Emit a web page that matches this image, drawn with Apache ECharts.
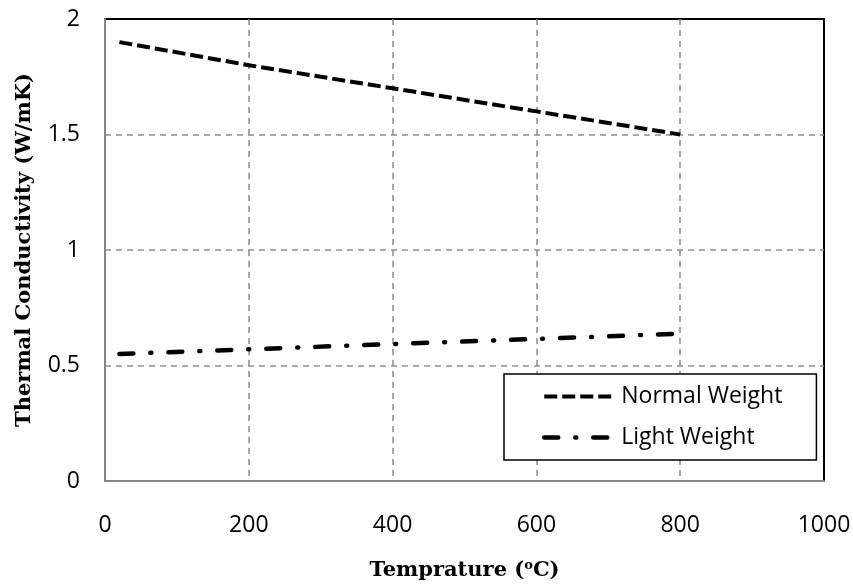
<!DOCTYPE html>
<html>
<head>
<meta charset="utf-8">
<script src="https://cdn.jsdelivr.net/npm/echarts@6/dist/echarts.min.js"></script>
<style>
  html, body { margin: 0; padding: 0; background: #fff; }
  #chart { width: 853px; height: 586px; }
</style>
</head>
<body>
<div id="chart"></div>
<script>
// Thermal conductivity of concrete vs temperature
const temps = [20, 200, 400, 600, 800];
const normalWeight = [1.9, 1.8, 1.7, 1.6, 1.5];
const lightWeight = [0.55, 0.57, 0.593, 0.615, 0.638];
const seriesNames = ['Normal Weight', 'Light Weight'];
const xTitle = 'Temprature (';
const yTitle = 'Thermal Conductivity (W/mK)';

const pairs = (xs, ys) => xs.map((x, i) => [x, ys[i]]);

const normalStyle = { color: '#000', width: 4, type: [13, 5] };
const lightStyle = { color: '#000', width: 4.5, type: [14, 17, 1, 17], cap: 'round' };

const chart = echarts.init(document.getElementById('chart'), null, { renderer: 'canvas' });

const tickFont = { fontFamily: 'Open Sans', fontSize: 23, color: '#000' };
const titleFont = { fontFamily: 'DejaVu Serif', fontWeight: 'bold', fontSize: 21, color: '#000' };
const gridLine = { show: true, showMinLine: false, showMaxLine: false,
  lineStyle: { color: '#8c8c8c', width: 1.5, type: [6, 5] } };

chart.setOption({
  animation: false,
  backgroundColor: '#fff',
  grid: {
    left: 105, right: 29, top: 19, bottom: 105,
    outerBoundsMode: 'none',
    containLabel: false,
    show: true, borderColor: '#000', borderWidth: 2, backgroundColor: 'transparent'
  },
  xAxis: {
    type: 'value', min: 0, max: 1000, interval: 200,
    name: '{t|' + xTitle + '}{s|o}{t|C)}',
    nameLocation: 'middle', nameGap: 78,
    nameTextStyle: {
      rich: {
        t: titleFont,
        s: { fontFamily: 'DejaVu Serif', fontWeight: 'bold', fontSize: 13, color: '#000', padding: [0, 0, 10, 0] }
      }
    },
    axisLine: { show: true, lineStyle: { color: '#868686', width: 2 } },
    axisTick: { show: false },
    axisLabel: Object.assign({ margin: 33, formatter: v => String(v) }, tickFont),
    splitLine: gridLine
  },
  yAxis: {
    type: 'value', min: 0, max: 2, interval: 0.5,
    name: yTitle,
    nameLocation: 'middle', nameGap: 70,
    nameTextStyle: titleFont,
    axisLine: { show: true, lineStyle: { color: '#868686', width: 2 } },
    axisTick: { show: false },
    axisLabel: Object.assign({ margin: 25, formatter: v => String(v) }, tickFont),
    splitLine: gridLine
  },
  legend: {
    orient: 'vertical',
    left: 504, top: 374,
    padding: [11, 34, 11, 38],
    itemWidth: 71, itemHeight: 20, itemGap: 18,
    borderColor: '#000', borderWidth: 1.5,
    backgroundColor: '#fff',
    itemStyle: { opacity: 0 },
    textStyle: { fontFamily: 'Open Sans', fontSize: 23, color: '#000', padding: [0, 0, 0, 1] },
    data: [
      { name: seriesNames[0], lineStyle: normalStyle },
      { name: seriesNames[1], lineStyle: lightStyle }
    ]
  },
  series: [
    {
      name: seriesNames[0], type: 'line', symbol: 'none',
      data: pairs(temps, normalWeight),
      lineStyle: normalStyle,
      itemStyle: { color: '#000' }
    },
    {
      name: seriesNames[1], type: 'line', symbol: 'none',
      data: pairs(temps, lightWeight),
      lineStyle: lightStyle,
      itemStyle: { color: '#000' }
    }
  ]
});
</script>
</body>
</html>
